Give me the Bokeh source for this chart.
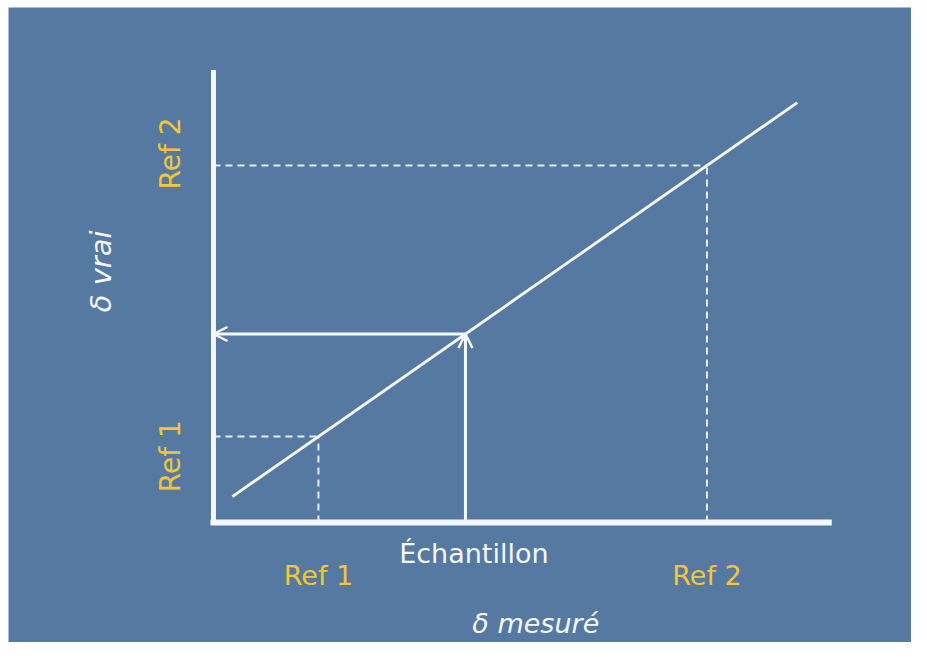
from bokeh.plotting import figure
from bokeh.models import Arrow, OpenHead, Range1d
from bokeh.core.properties import value
from bokeh.embed import file_html
from bokeh.resources import INLINE
import math

# ---- data (arbitrary delta units) ----
ref_names = ["Ref 1", "Ref 2"]
ref_measured = [1.0, 4.7]      # δ mesuré of the two references
ref_true = [1.0, 4.15]         # δ vrai of the two references
sample_name = "Échantillon"
sample_measured = 2.4          # δ mesuré of the sample
line_x = [0.18, 5.56]          # extent of the calibration line
axis_x_max = 5.86
axis_y_max = 5.26
x_title = "δ mesuré"
y_title = "δ vrai"

# calibration line through the two references
slope = (ref_true[1] - ref_true[0]) / (ref_measured[1] - ref_measured[0])
def calib(x):
    return ref_true[0] + slope * (x - ref_measured[0])
line_y = [calib(x) for x in line_x]
sample_true = calib(sample_measured)

BG = "#5679a2"
YEL = "#f2c53a"
WHITE = "#f4f7fb"
FONT = "DejaVu Sans"

W, H = 911, 642
p = figure(width=W, height=H, output_backend="svg", toolbar_location=None,
           x_range=Range1d(-1.952, 6.648), y_range=Range1d(-1.395, 5.988),
           min_border_left=8, min_border_top=7, min_border_right=0, min_border_bottom=0,
           outline_line_color=None)
p.axis.visible = False
p.grid.visible = False
p.background_fill_color = BG
p.border_fill_color = "white"

# dashed reference guides
for rx, ry in zip(ref_measured, ref_true):
    p.line([0, rx], [ry, ry], line_color=WHITE, line_width=2, line_dash="7 5", line_alpha=0.9)
    p.line([rx, rx], [0, ry], line_color=WHITE, line_width=2, line_dash="7 5", line_alpha=0.9)

# calibration line
p.line(line_x, line_y, line_color=WHITE, line_width=2.8)

# sample arrows
p.add_layout(Arrow(x_start=sample_measured, y_start=0, x_end=sample_measured, y_end=sample_true,
                   line_color=WHITE, line_width=3,
                   end=OpenHead(size=14, line_color=WHITE, line_width=2.5)))
p.add_layout(Arrow(x_start=sample_measured, y_start=sample_true, x_end=0, y_end=sample_true,
                   line_color=WHITE, line_width=3,
                   end=OpenHead(size=14, line_color=WHITE, line_width=2.5)))

# axes
p.line([0, 0], [0, axis_y_max], line_color=WHITE, line_width=5)
p.line([0, axis_x_max], [0, 0], line_color=WHITE, line_width=6, line_cap="square")

# tick-like labels
p.text(x=ref_measured, y=[-0.62, -0.62], text=ref_names, text_color=YEL,
       text_font=value(FONT), text_font_size="27px", text_align="center", text_baseline="middle")
p.text(x=[-0.41, -0.41], y=[ref_true[0] - 0.23, ref_true[1] + 0.14], text=ref_names,
       angle=math.pi / 2, text_color=YEL, text_font=value(FONT), text_font_size="28px",
       text_align="center", text_baseline="middle")
p.text(x=[sample_measured + 0.08], y=[-0.36], text=[sample_name], text_color=WHITE,
       text_font=value(FONT), text_font_size="27px", text_align="center", text_baseline="middle")

# titles
p.text(x=[3.07], y=[-1.17], text=[x_title], text_color=WHITE, text_font=value(FONT),
       text_font_size="27px", text_font_style="italic", text_align="center", text_baseline="middle")
p.text(x=[-1.07], y=[2.92], text=[y_title], angle=math.pi / 2, text_color=WHITE,
       text_font=value(FONT), text_font_size="29px", text_font_style="italic",
       text_align="center", text_baseline="middle")

open("out.html", "w").write(file_html(p, INLINE))
